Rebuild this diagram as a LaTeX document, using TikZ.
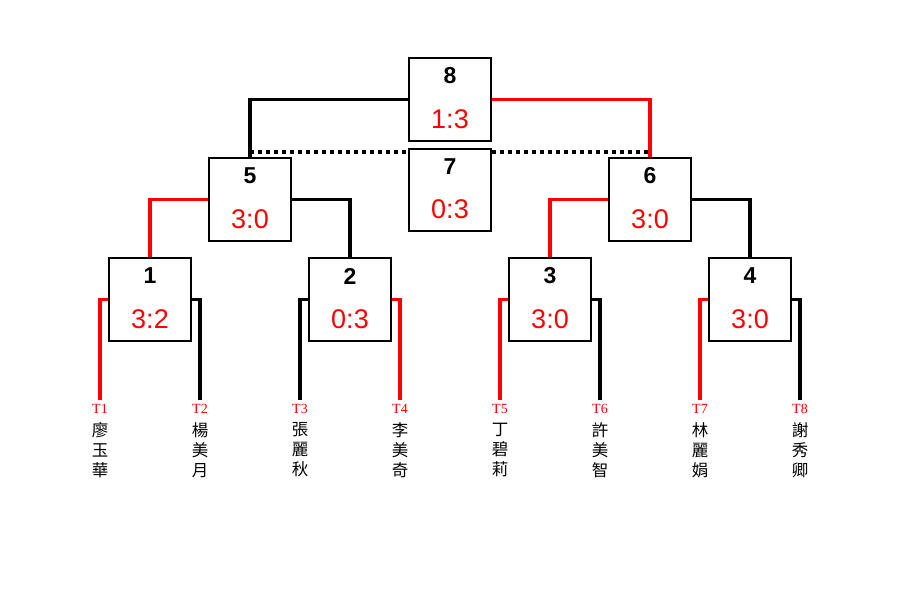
\documentclass[tikz,border=0pt]{standalone}
\usepackage{fontspec}
\setmainfont{Liberation Sans}
\newfontfamily\cjk{Noto Sans CJK TC}
\newfontfamily\serifT{Liberation Serif}
\definecolor{wred}{RGB}{255,0,0}
\tikzset{
  box/.style={draw=black, line width=2pt, fill=white, minimum width=82pt, minimum height=83pt, inner sep=0pt},
  numtxt/.style={inner sep=0pt, font=\fontsize{23}{26}\selectfont\bfseries},
  scoretxt/.style={inner sep=0pt, text=wred, font=\fontsize{27}{30}\selectfont},
  tlab/.style={inner sep=0pt, text=wred, anchor=center, text height=10pt, text depth=0pt, font=\serifT\fontsize{14}{16}\selectfont},
  namelab/.style={inner sep=0pt, align=center, font=\cjk\fontsize{16.5}{20}\selectfont},
  win/.style={draw=wred, line width=3.6pt},
  lose/.style={draw=black, line width=3.6pt},
  dotline/.style={draw=black, line width=3.6pt, dash pattern=on 4pt off 4pt}
}
\newcommand\matchbox[5]{%
  \node[box] (#1) at (#2,#3) {};
  \path (#1.center) ++(0,-23.5) node[numtxt] (#1n) {#4};
  \path (#1.center) ++(0,19.5) node[scoretxt] (#1s) {#5};
}
\begin{document}
\begin{tikzpicture}[x=1pt,y=-1pt]
\useasboundingbox (0,0) rectangle (900,600);
% player labels
\foreach \i/\x/\nm in {1/100/廖\\玉\\華, 2/200/楊\\美\\月, 3/300/張\\麗\\秋, 4/400/李\\美\\奇, 5/500/丁\\碧\\莉, 6/600/許\\美\\智, 7/700/林\\麗\\娟, 8/800/謝\\秀\\卿}{
  \node[tlab] (t\i) at (\x,408) {T\i};
  \node[namelab] (p\i) at (\x,450) {\nm};
}
% boxes placed first invisibly for names
\node[box, draw=none, fill=none] (b1) at (150,299.5) {};
\node[box, draw=none, fill=none] (b2) at (350,299.5) {};
\node[box, draw=none, fill=none] (b3) at (550,299.5) {};
\node[box, draw=none, fill=none] (b4) at (750,299.5) {};
\node[box, draw=none, fill=none] (b5) at (250,199.5) {};
\node[box, draw=none, fill=none] (b6) at (650,199.5) {};
\node[box, draw=none, fill=none] (b8) at (450,99.5) {};
\node[box, draw=none, fill=none, minimum height=82pt] (b7) at (450,190) {};
\coordinate (d5) at (250,152);
\coordinate (d6) at (650,152);
% connectors
\draw[win]  (b1.west) -| ([yshift=3pt]t1.north);
\draw[lose] (b1.east) -| ([yshift=3pt]t2.north);
\draw[lose] (b2.west) -| ([yshift=3pt]t3.north);
\draw[win]  (b2.east) -| ([yshift=3pt]t4.north);
\draw[win]  (b3.west) -| ([yshift=3pt]t5.north);
\draw[lose] (b3.east) -| ([yshift=3pt]t6.north);
\draw[win]  (b4.west) -| ([yshift=3pt]t7.north);
\draw[lose] (b4.east) -| ([yshift=3pt]t8.north);
\draw[win]  (b1.north) |- (b5.west);
\draw[lose] (b5.east) -| (b2.north);
\draw[win]  (b6.west) -| (b3.north);
\draw[lose] (b6.east) -| (b4.north);
\draw[lose] (b5.north) |- (b8.west);
\draw[win]  (b8.east) -| (b6.north);
\draw[dotline] (d5) -- (d5 -| b7.west);
\draw[dotline] (b7.east |- d6) -- ([xshift=-2pt]d6);
% boxes
\matchbox{m1}{150}{299.5}{1}{3:2}
\matchbox{m2}{350}{299.5}{2}{0:3}
\matchbox{m3}{550}{299.5}{3}{3:0}
\matchbox{m4}{750}{299.5}{4}{3:0}
\matchbox{m5}{250}{199.5}{5}{3:0}
\matchbox{m6}{650}{199.5}{6}{3:0}
\matchbox{m8}{450}{99.5}{8}{1:3}
\node[box, minimum height=82pt] (m7) at (450,190) {};
\path (m7.center) ++(0,-23.5) node[numtxt] (m7n) {7};
\path (m7.center) ++(0,19.5) node[scoretxt] (m7s) {0:3};
\end{tikzpicture}
\end{document}
